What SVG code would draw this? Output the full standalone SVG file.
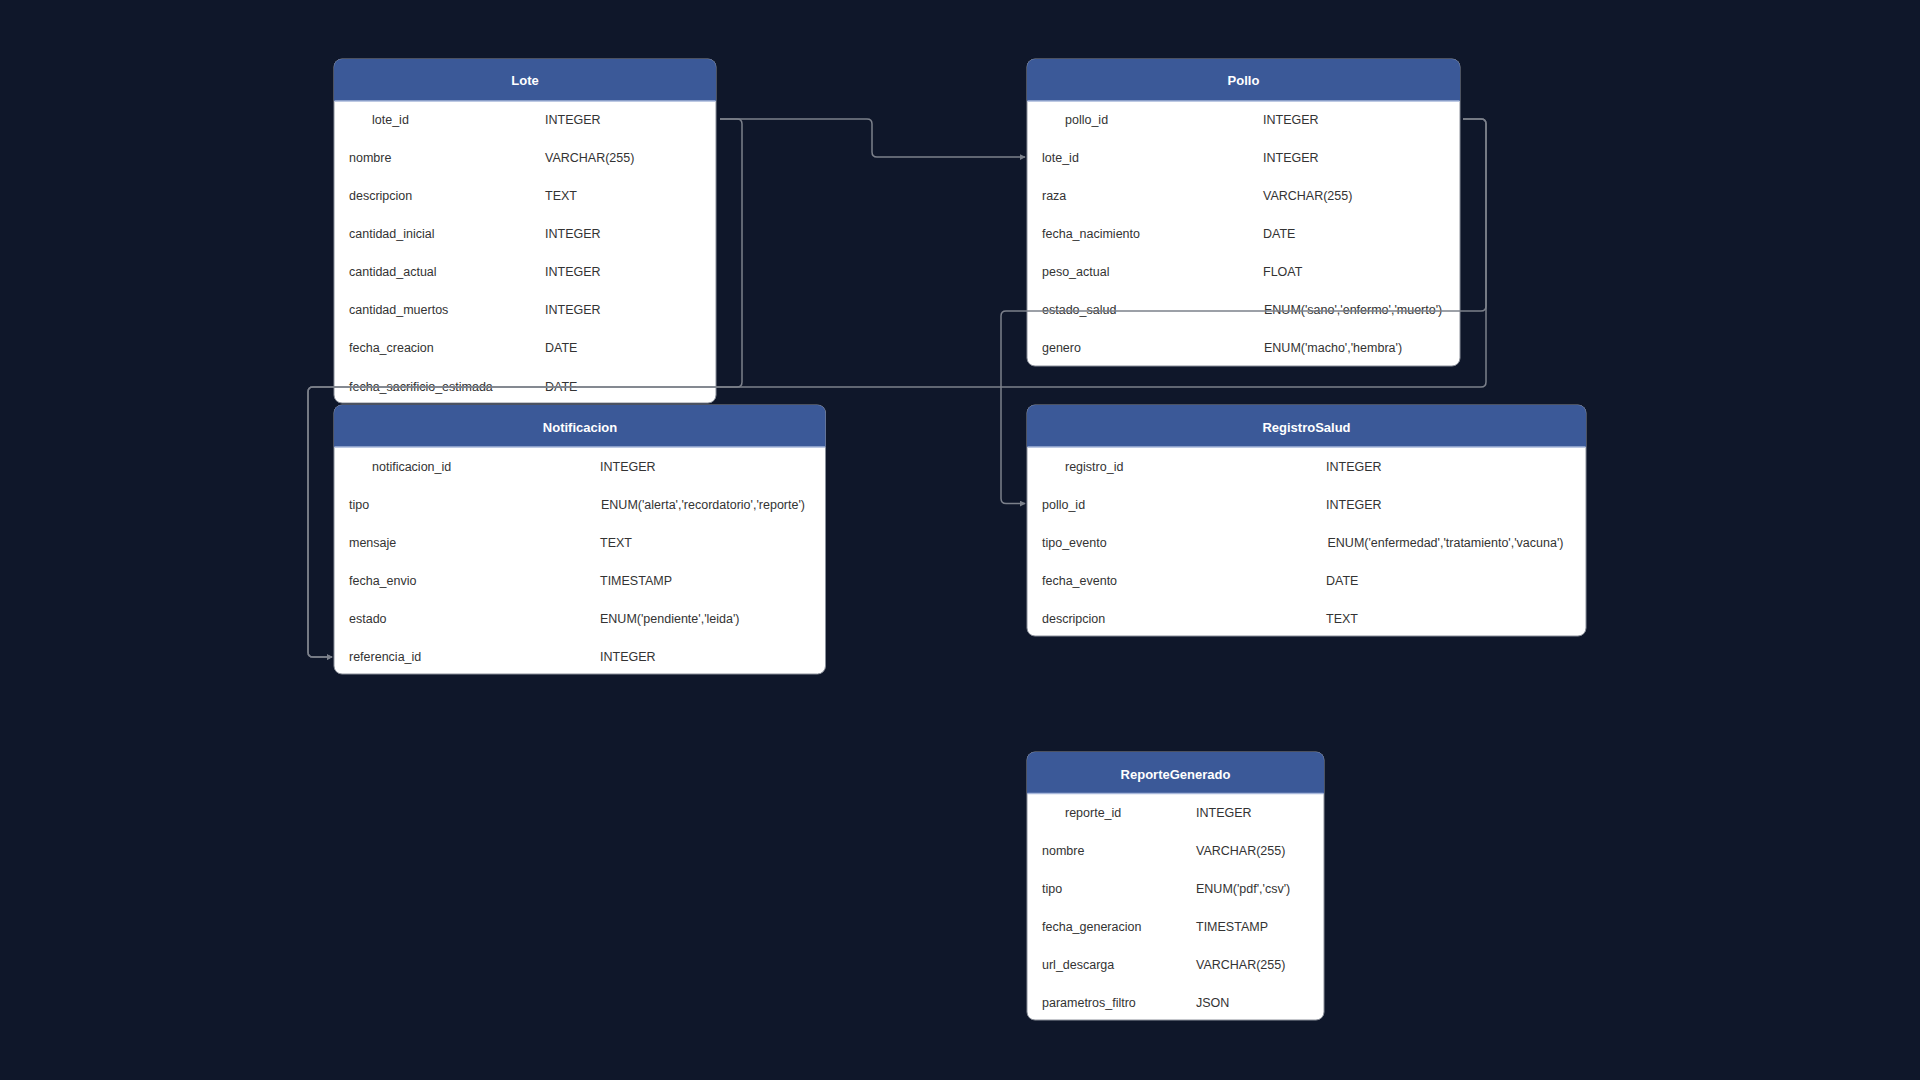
<svg xmlns="http://www.w3.org/2000/svg" width="1920" height="1080" viewBox="0 0 1920 1080">
<defs>
<style>
.bg{fill:#0f172a}
.body{fill:#ffffff;stroke:#8a8f99;stroke-width:1}
.hdr{fill:#3b5998}
.sep{stroke:#a7b7da;stroke-width:1.5}
.title{font-family:"Liberation Sans",Arial,sans-serif;font-size:13px;font-weight:bold;fill:#ffffff;text-anchor:middle;dominant-baseline:central}
.f{font-family:"Liberation Sans",Arial,sans-serif;font-size:12.5px;fill:#333333;dominant-baseline:central}
.conn{fill:none;stroke:#7c818b;stroke-width:1.5}
</style>
<marker id="arr" viewBox="0 0 8 8" refX="7" refY="4" markerWidth="6" markerHeight="6" markerUnits="userSpaceOnUse" orient="auto">
<path d="M0,0 L8,4 L0,8 Z" fill="#7c818b"/>
</marker>
</defs>
<rect class="bg" x="0" y="0" width="1920" height="1080"/>

<g id="node-Lote">
<rect class="body" x="334" y="59" width="382" height="344" rx="8" ry="8"/>
<path class="hdr" d="M334,101 V67 A8,8 0 0 1 342,59 H708 A8,8 0 0 1 716,67 V101 Z"/>
<line class="sep" x1="334.5" y1="101" x2="715.5" y2="101"/>
<text class="title" x="525" y="80">Lote</text>
<text class="f" x="372" y="120">lote_id</text><text class="f" x="545" y="120">INTEGER</text>
<text class="f" x="349" y="158">nombre</text><text class="f" x="545" y="158">VARCHAR(255)</text>
<text class="f" x="349" y="196">descripcion</text><text class="f" x="545" y="196">TEXT</text>
<text class="f" x="349" y="234">cantidad_inicial</text><text class="f" x="545" y="234">INTEGER</text>
<text class="f" x="349" y="272">cantidad_actual</text><text class="f" x="545" y="272">INTEGER</text>
<text class="f" x="349" y="310">cantidad_muertos</text><text class="f" x="545" y="310">INTEGER</text>
<text class="f" x="349" y="348">fecha_creacion</text><text class="f" x="545" y="348">DATE</text>
<text class="f" x="349" y="387">fecha_sacrificio_estimada</text><text class="f" x="545" y="387">DATE</text>
</g>

<g id="node-Pollo">
<rect class="body" x="1027" y="59" width="433" height="307" rx="8" ry="8"/>
<path class="hdr" d="M1027,101 V67 A8,8 0 0 1 1035,59 H1452 A8,8 0 0 1 1460,67 V101 Z"/>
<line class="sep" x1="1027.5" y1="101" x2="1459.5" y2="101"/>
<text class="title" x="1243.5" y="80">Pollo</text>
<text class="f" x="1065" y="120">pollo_id</text><text class="f" x="1263" y="120">INTEGER</text>
<text class="f" x="1042" y="158">lote_id</text><text class="f" x="1263" y="158">INTEGER</text>
<text class="f" x="1042" y="196">raza</text><text class="f" x="1263" y="196">VARCHAR(255)</text>
<text class="f" x="1042" y="234">fecha_nacimiento</text><text class="f" x="1263" y="234">DATE</text>
<text class="f" x="1042" y="272">peso_actual</text><text class="f" x="1263" y="272">FLOAT</text>
<text class="f" x="1042" y="310">estado_salud</text><text class="f" x="1264" y="310">ENUM('sano','enfermo','muerto')</text>
<text class="f" x="1042" y="348">genero</text><text class="f" x="1264" y="348">ENUM('macho','hembra')</text>
</g>

<g id="node-Notificacion">
<rect class="body" x="334" y="405" width="491.5" height="269" rx="8" ry="8"/>
<path class="hdr" d="M334,447 V413 A8,8 0 0 1 342,405 H817.5 A8,8 0 0 1 825.5,413 V447 Z"/>
<line class="sep" x1="334.5" y1="447" x2="825" y2="447"/>
<text class="title" x="580" y="427">Notificacion</text>
<text class="f" x="372" y="466.5">notificacion_id</text><text class="f" x="600" y="466.5">INTEGER</text>
<text class="f" x="349" y="504.5">tipo</text><text class="f" x="601" y="504.5">ENUM('alerta','recordatorio','reporte')</text>
<text class="f" x="349" y="542.5">mensaje</text><text class="f" x="600" y="542.5">TEXT</text>
<text class="f" x="349" y="580.5">fecha_envio</text><text class="f" x="600" y="580.5">TIMESTAMP</text>
<text class="f" x="349" y="618.5">estado</text><text class="f" x="600" y="618.5">ENUM('pendiente','leida')</text>
<text class="f" x="349" y="656.5">referencia_id</text><text class="f" x="600" y="656.5">INTEGER</text>
</g>

<g id="node-RegistroSalud">
<rect class="body" x="1027" y="405" width="559" height="231" rx="8" ry="8"/>
<path class="hdr" d="M1027,447 V413 A8,8 0 0 1 1035,405 H1578 A8,8 0 0 1 1586,413 V447 Z"/>
<line class="sep" x1="1027.5" y1="447" x2="1585.5" y2="447"/>
<text class="title" x="1306.5" y="427">RegistroSalud</text>
<text class="f" x="1065" y="466.5">registro_id</text><text class="f" x="1326" y="466.5">INTEGER</text>
<text class="f" x="1042" y="504.5">pollo_id</text><text class="f" x="1326" y="504.5">INTEGER</text>
<text class="f" x="1042" y="542.5">tipo_evento</text><text class="f" x="1327.5" y="542.5">ENUM('enfermedad','tratamiento','vacuna')</text>
<text class="f" x="1042" y="580.5">fecha_evento</text><text class="f" x="1326" y="580.5">DATE</text>
<text class="f" x="1042" y="618.5">descripcion</text><text class="f" x="1326" y="618.5">TEXT</text>
</g>

<g id="node-ReporteGenerado">
<rect class="body" x="1027" y="752" width="297" height="268" rx="8" ry="8"/>
<path class="hdr" d="M1027,793.5 V760 A8,8 0 0 1 1035,752 H1316 A8,8 0 0 1 1324,760 V793.5 Z"/>
<line class="sep" x1="1027.5" y1="793.5" x2="1323.5" y2="793.5"/>
<text class="title" x="1175.5" y="774.5">ReporteGenerado</text>
<text class="f" x="1065" y="813">reporte_id</text><text class="f" x="1196" y="813">INTEGER</text>
<text class="f" x="1042" y="851">nombre</text><text class="f" x="1196" y="851">VARCHAR(255)</text>
<text class="f" x="1042" y="889">tipo</text><text class="f" x="1196" y="889">ENUM('pdf','csv')</text>
<text class="f" x="1042" y="927">fecha_generacion</text><text class="f" x="1196" y="927">TIMESTAMP</text>
<text class="f" x="1042" y="965">url_descarga</text><text class="f" x="1196" y="965">VARCHAR(255)</text>
<text class="f" x="1042" y="1003">parametros_filtro</text><text class="f" x="1196" y="1003">JSON</text>
</g>

<g id="connectors">
<path class="conn" marker-end="url(#arr)" d="M720,119 H867 Q872,119 872,124 V152 Q872,157 877,157 H1025"/>
<path class="conn" marker-end="url(#arr)" d="M720,119 H737 Q742,119 742,124 V382 Q742,387 737,387 H313 Q308,387 308,392 V652 Q308,657 313,657 H332"/>
<path class="conn" marker-end="url(#arr)" d="M1463,119 H1481 Q1486,119 1486,124 V306 Q1486,311 1481,311 H1006 Q1001,311 1001,316 V498.5 Q1001,503.5 1006,503.5 H1025"/>
<path class="conn" marker-end="url(#arr)" d="M1463,119 H1481 Q1486,119 1486,124 V382 Q1486,387 1481,387 H313 Q308,387 308,392 V652 Q308,657 313,657 H332"/>
</g>
</svg>
